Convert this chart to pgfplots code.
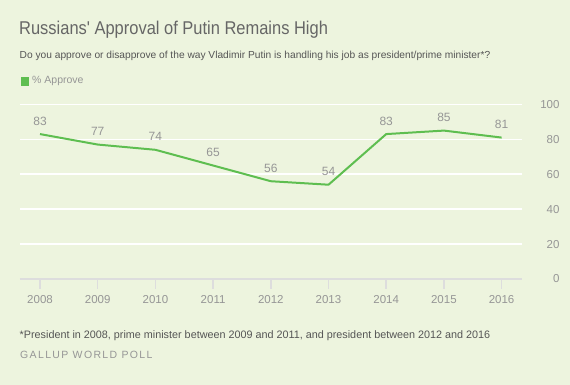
\documentclass[border=0pt]{standalone}
\usepackage{pgfplots}
\pgfplotsset{compat=1.18}
\usepackage{fontspec}
\setmainfont{Liberation Sans}
\newfontfamily\titlefont[FakeStretch=0.89]{Liberation Sans}
\newfontfamily\gallupfont[LetterSpace=13]{Liberation Sans}
\definecolor{bg}{RGB}{237,244,222}
\definecolor{grn}{RGB}{94,190,80}
\definecolor{titlec}{RGB}{102,102,102}
\definecolor{subc}{RGB}{85,85,85}
\definecolor{lblc}{RGB}{150,150,150}
\definecolor{axc}{RGB}{221,221,221}
\begin{document}
\begin{tikzpicture}[x=1pt,y=1pt]
\fill[bg] (0,0) rectangle (570,385);
\node[anchor=base west,inner sep=0,text=titlec,font=\titlefont\fontsize{18.5}{20}\selectfont] at (19,350.7) {Russians' Approval of Putin Remains High};
\node[anchor=base west,inner sep=0,text=subc,font=\fontsize{10.2}{12}\selectfont] at (19.5,326) {Do you approve or disapprove of the way Vladimir Putin is handling his job as president/prime minister*?};
\fill[grn] (20.5,299.3) rectangle (28.5,308.3);
\node[anchor=base west,inner sep=0,text=lblc,font=\fontsize{10.5}{12}\selectfont] at (32,301) {\% Approve};
\node[anchor=base west,inner sep=0,text=subc,font=\fontsize{10.8}{12}\selectfont] at (19.5,46) {*President in 2008, prime minister between 2009 and 2011, and president between 2012 and 2016};
\node[anchor=base west,inner sep=0,text=lblc,font=\gallupfont\fontsize{10.5}{12}\selectfont] at (20,26) {GALLUP WORLD POLL};
\begin{axis}[
  at={(20pt,106pt)}, anchor=south west,
  scale only axis, width=501.7pt, height=174.6pt,
  xmin=2007.653, xmax=2016.348, ymin=0, ymax=100,
  clip=false,
  axis line style={draw=none},
  xtick={2008,...,2016},
  ytick={0,20,...,100},
  ymajorgrids, grid style={white, line width=1.5pt},
  tick align=outside, major tick length=10pt,
  xtick pos=bottom, ytick pos=right,
  xtick style={draw=axc, line width=1.5pt},
  ytick style={draw=none},
  yticklabel pos=right,
  xticklabel style={text=lblc, font=\fontsize{11.5}{12}\selectfont, anchor=base, inner sep=0, yshift=-15pt},
  yticklabel style={text=lblc, font=\fontsize{11.5}{12}\selectfont, anchor=east, inner sep=0, xshift=28pt},
  /pgf/number format/assume math mode=true,
  xticklabel={\pgfmathprintnumber[1000 sep={}]{\tick}},
  every node near coord/.style={text=lblc, font=\fontsize{12}{12}\selectfont, anchor=base, yshift=9pt, inner sep=0},
]
\draw[axc, line width=1.5pt] (axis cs:2007.653,0) -- (axis cs:2016.348,0);
\addplot[grn, line width=2pt, nodes near coords, point meta=explicit symbolic] coordinates {
(2008,83) [83] (2009,77) [77] (2010,74) [74] (2011,65) [65] (2012,56) [56] (2013,54) [54] (2014,83) [83] (2015,85) [85] (2016,81) [81]};
\end{axis}
\end{tikzpicture}
\end{document}
